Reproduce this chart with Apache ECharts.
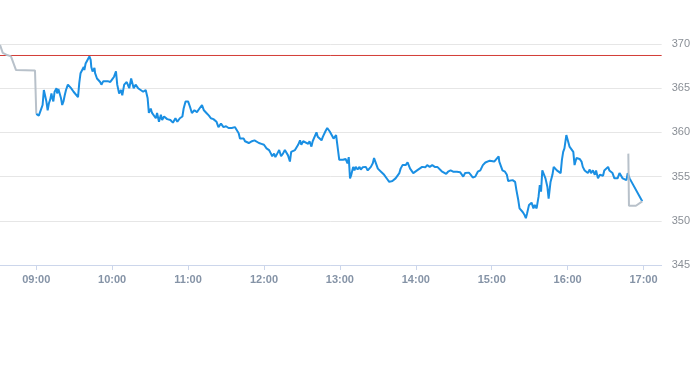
<!DOCTYPE html>
<html>
<head>
<meta charset="utf-8">
<script src="https://cdn.jsdelivr.net/npm/echarts@6/dist/echarts.min.js"></script>
<style>
html,body{margin:0;padding:0;background:#fff;}
#chart{width:693px;height:365px;}
</style>
</head>
<body>
<div id="chart"></div>
<script>
// Pre-market (grey)
const preTimes = ["08:31:20","08:33:30","08:37:00","08:40:00","08:44:00","08:59:00","09:00:00"];
const preValues = [369.9,369.0,368.75,368.6,367.05,367.0,362.1];

// Regular session (blue)
const sessionTimes = [
"09:00:00","09:02:00","09:03:30","09:05:00","09:06:00","09:07:00","09:08:00","09:09:00","09:10:00","09:11:00",
"09:12:00","09:12:30","09:13:30","09:14:30","09:16:00","09:16:30","09:17:30","09:18:30","09:19:30","09:20:30",
"09:21:30","09:22:30","09:23:30","09:25:00","09:26:30","09:27:30","09:29:30","09:31:00","09:33:00","09:34:00",
"09:35:00","09:36:30","09:37:30","09:38:00","09:39:00","09:40:00","09:40:30","09:42:00","09:43:00","09:43:30",
"09:44:30","09:46:00","09:46:30","09:48:00","09:49:00","09:50:30","09:51:30","09:53:00","09:54:30","09:56:30",
"09:58:30","10:00:00","10:01:30","10:03:00","10:04:00","10:05:30","10:07:00","10:08:00","10:09:30","10:11:30",
"10:13:30","10:15:00","10:17:00","10:18:30","10:20:30","10:22:30","10:24:30","10:26:30","10:28:00","10:29:00",
"10:30:30","10:31:30","10:33:00","10:34:30","10:35:30","10:37:00","10:38:30","10:39:30","10:41:00","10:43:30",
"10:46:00","10:48:00","10:50:00","10:51:30","10:53:30","10:55:30","10:56:30","10:58:00","11:00:00","11:01:30",
"11:03:00","11:05:00","11:07:00","11:09:00","11:11:00","11:12:30","11:14:30","11:16:30","11:18:00","11:20:00",
"11:22:30","11:24:00","11:26:00","11:28:00","11:30:00","11:32:00","11:34:30","11:37:00","11:38:30","11:40:00",
"11:41:00","11:42:30","11:44:00","11:45:00","11:46:30","11:48:00","11:50:30","11:52:30","11:54:00","11:56:00",
"11:58:00","12:00:00","12:02:00","12:04:00","12:05:30","12:06:30","12:08:00","12:09:00","12:10:30","12:12:00",
"12:13:30","12:15:00","12:16:30","12:18:00","12:19:00","12:20:30","12:21:30","12:23:00","12:24:30","12:25:30",
"12:27:00","12:28:30","12:29:30","12:31:00","12:32:00","12:35:00","12:36:00","12:37:30","12:38:30","12:40:00",
"12:41:30","12:42:30","12:44:00","12:45:30","12:46:30","12:48:30","12:50:00","12:52:00","12:53:30","12:55:00",
"12:57:00","12:58:30","12:59:30","13:01:00","13:02:30","13:04:30","13:06:00","13:07:00","13:08:00","13:09:00",
"13:10:30","13:11:30","13:12:30","13:14:00","13:15:30","13:16:30","13:18:00","13:20:30","13:22:00","13:23:30",
"13:24:30","13:26:00","13:27:00","13:28:30","13:30:00","13:31:00","13:32:30","13:33:30","13:35:00","13:36:30",
"13:37:30","13:39:00","13:40:00","13:41:30","13:43:00","13:44:00","13:45:30","13:47:00","13:48:00","13:49:30",
"13:51:00","13:52:00","13:53:30","13:54:30","13:55:30","13:56:30","13:58:00","13:59:30","14:01:00","14:03:00",
"14:05:00","14:07:30","14:09:00","14:11:00","14:13:00","14:15:00","14:17:00","14:18:30","14:20:30","14:22:00",
"14:24:00","14:25:30","14:27:30","14:29:30","14:31:00","14:32:30","14:35:00","14:37:30","14:39:00","14:42:00",
"14:43:30","14:45:00","14:47:00","14:49:00","14:51:00","14:53:00","14:55:00","14:56:00","14:58:30","15:00:00",
"15:02:00","15:03:30","15:05:30","15:06:00","15:07:30","15:08:30","15:10:30","15:12:00","15:13:00","15:14:30",
"15:16:30","15:18:30","15:19:30","15:21:00","15:22:00","15:23:00","15:24:30","15:26:00","15:27:00","15:28:00",
"15:29:30","15:31:30","15:33:00","15:34:00","15:35:30","15:37:00","15:38:00","15:39:00","15:40:00","15:41:00",
"15:42:30","15:44:00","15:45:00","15:46:30","15:48:00","15:49:00","15:50:30","15:51:30","15:53:00","15:54:30",
"15:55:30","15:56:30","15:57:30","15:59:00","16:00:30","16:01:30","16:03:00","16:04:30","16:05:30","16:07:00",
"16:08:00","16:09:30","16:11:00","16:12:00","16:13:30","16:15:00","16:16:00","16:17:30","16:18:30","16:20:00",
"16:21:30","16:22:30","16:24:00","16:25:30","16:26:30","16:28:00","16:29:00","16:30:30","16:32:00","16:33:00",
"16:34:30","16:35:30","16:37:00","16:38:30","16:39:30","16:41:00","16:42:30","16:43:30","16:45:00","16:46:30",
"16:47:30","16:49:00","16:59:00"
];
const sessionValues = [
362.1,361.9,362.5,363.1,364.8,365.0,363.5,362.5,363.3,363.7,
364.4,364.0,363.5,364.6,365.0,364.4,364.9,364.4,363.9,363.1,
363.5,364.2,364.8,365.4,365.2,365.0,364.6,364.4,364.0,365.6,
366.7,366.9,367.4,367.05,367.8,367.6,368.2,368.6,368.2,367.4,
366.9,367.3,366.7,366.1,365.9,365.7,365.4,365.8,365.6,365.8,
365.7,366.0,366.3,366.9,365.4,364.4,364.8,364.2,365.4,365.7,
365.0,366.1,365.0,365.4,365.0,364.8,364.6,364.8,363.9,362.2,
362.7,362.2,362.0,361.6,362.2,361.2,362.0,361.4,361.8,361.5,
361.4,361.1,361.6,361.2,361.6,361.8,362.7,363.5,363.5,362.9,
362.2,362.5,362.3,362.7,363.1,362.5,362.2,361.9,361.6,361.5,
361.2,360.6,361.0,360.6,360.7,360.5,360.5,360.6,360.4,359.9,
359.3,359.2,359.3,359.0,359.0,358.8,359.0,359.1,359.0,358.8,
358.7,358.6,358.2,358.0,357.6,357.3,357.6,357.2,357.6,358.0,
357.3,357.6,358.0,358.0,357.4,356.7,357.8,357.8,358.0,358.0,
358.6,359.1,358.6,359.0,358.8,358.7,359.0,358.4,359.0,359.1,
360.0,359.5,359.5,359.1,359.5,360.1,360.5,360.1,359.9,359.3,
359.7,359.9,356.9,357.0,356.9,357.0,356.5,357.2,354.8,355.2,
356.1,355.7,356.1,355.8,356.1,355.8,356.05,356.1,355.7,355.55,
356.1,356.5,357.1,356.5,355.9,355.7,355.55,355.4,355.2,355.0,
354.7,354.4,354.6,354.5,354.7,354.8,355.0,355.4,355.9,356.3,
356.5,356.3,356.6,356.5,355.9,356.1,355.4,355.55,355.7,355.9,
356.1,356.05,356.3,356.1,356.3,356.1,356.1,355.9,355.6,355.4,
355.3,355.55,355.7,355.55,355.7,355.55,355.5,355.0,355.4,355.45,
355.2,354.9,355.0,355.55,355.7,356.3,356.6,356.5,356.8,356.7,
356.7,356.9,357.3,356.7,356.1,355.7,355.55,355.2,354.5,354.4,
354.6,354.4,353.5,352.35,351.4,351.2,351.0,350.65,350.3,350.85,
351.8,352.05,351.4,351.8,351.4,352.7,354.05,353.3,355.7,355.8,
354.8,353.85,352.5,354.4,355.2,356.1,355.9,355.7,355.55,355.4,
356.9,357.8,358.2,359.7,359.7,358.4,358.4,357.8,356.3,357.1,
356.9,357.0,356.7,356.1,355.7,355.55,355.4,355.8,355.4,355.7,
355.2,355.7,354.8,355.2,355.0,355.1,355.7,355.6,356.1,355.7,
355.9,355.4,354.8,355.0,354.8,355.4,355.45,354.8,354.8,354.6,
355.4,354.8,352.2
];

// After-hours (grey)
const postTimes = ["16:48:00","16:48:30","16:54:00","16:55:30","16:59:00"];
const postValues = [357.6,351.7,351.7,351.6,352.2];

const previousClose = 368.7;
const axisMin = "08:31:20";
const axisMax = "17:14:20";
const yTicks = [345, 350, 355, 360, 365, 370];

function toDate(t) {
  const p = t.split(":").map(Number);
  return new Date(2024, 0, 2, p[0], p[1], p[2] || 0).getTime();
}
function pairs(times, values) {
  return times.map((t, i) => [toDate(t), values[i]]);
}

const chart = echarts.init(document.getElementById('chart'), null, {renderer: 'canvas'});
chart.setOption({
  animation: false,
  backgroundColor: '#ffffff',
  grid: {left: 0, right: 27, top: 44, bottom: 100, containLabel: false},
  xAxis: {
    type: 'time',
    min: toDate(axisMin),
    max: toDate(axisMax),
    minInterval: 3600 * 1000,
    maxInterval: 3600 * 1000,
    axisLine: {show: true, lineStyle: {color: '#ccd6eb', width: 1}},
    axisTick: {show: true, length: 5, lineStyle: {color: '#ccd6eb'}},
    splitLine: {show: false},
    axisLabel: {
      color: '#8593a6', fontSize: 11, fontWeight: 'bold', margin: 9,
      fontFamily: 'Liberation Sans, Arial, sans-serif',
      formatter: '{HH}:{mm}', hideOverlap: false
    }
  },
  yAxis: {
    type: 'value',
    position: 'right',
    min: yTicks[0],
    max: yTicks[yTicks.length - 1],
    interval: 5,
    axisLine: {show: false},
    axisTick: {show: false},
    splitLine: {show: true, lineStyle: {color: '#e6e6e6', width: 1}},
    axisLabel: {
      color: '#8a8f96', fontSize: 11, margin: 10,
      fontFamily: 'Liberation Sans, Arial, sans-serif'
    }
  },
  series: [
    {
      type: 'line', z: 1,
      data: [[toDate(axisMin), previousClose], [toDate(axisMax), previousClose]],
      showSymbol: false, symbol: 'none',
      lineStyle: {color: '#d33c36', width: 1},
      itemStyle: {color: '#d33c36'}
    },
    {
      type: 'line', data: pairs(sessionTimes, sessionValues),
      showSymbol: false, symbol: 'none',
      lineStyle: {color: '#1a8fe3', width: 2},
      itemStyle: {color: '#1a8fe3'},
      z: 3
    },
    {
      type: 'line', data: pairs(preTimes, preValues),
      showSymbol: false, symbol: 'none',
      lineStyle: {color: '#b8c1ca', width: 2},
      itemStyle: {color: '#b8c1ca'}, z: 2
    },
    {
      type: 'line', data: pairs(postTimes, postValues),
      showSymbol: false, symbol: 'none',
      lineStyle: {color: '#b8c1ca', width: 2},
      itemStyle: {color: '#b8c1ca'}, z: 4
    }
  ]
});
</script>
</body>
</html>
